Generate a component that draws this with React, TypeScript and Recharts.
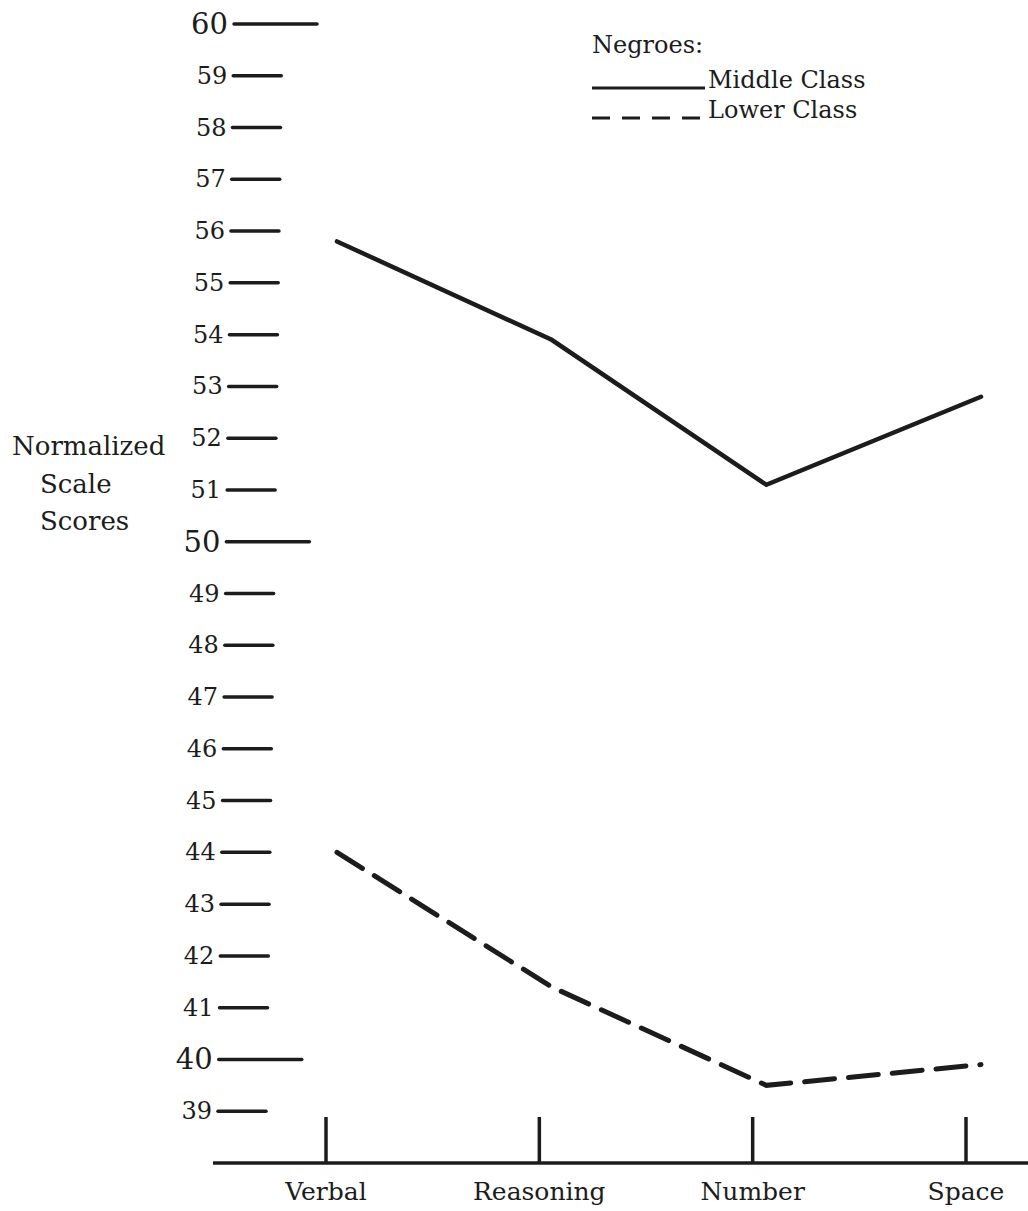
import React from "react";
import { LineChart, Line, XAxis, YAxis, Legend } from "recharts";

const categories = ["Verbal", "Reasoning", "Number", "Space"];
const middleClass = [55.8, 53.9, 51.1, 52.8];
const lowerClass = [44.0, 41.4, 39.5, 39.9];
const yTicks = [39, 40, 41, 42, 43, 44, 45, 46, 47, 48, 49, 50, 51, 52, 53, 54, 55, 56, 57, 58, 59, 60];
const seriesNames = ["Middle Class", "Lower Class"];
const legendTitle = "Negroes:";
const yTitle = ["Normalized", "Scale", "Scores"];

const data = categories.map((c, i) => ({ cat: c, middle: middleClass[i], lower: lowerClass[i] }));

const INK = "#1c1c1c";
const FONT = "'DejaVu Serif', 'Liberation Serif', serif";

const YTick = (props: any) => {
  const { y, payload } = props;
  const v = payload.value as number;
  const shift = ((60 - v) / 21) * 16;
  const major = v % 10 === 0;
  const x0 = 234 - shift;
  const x1 = x0 + (major ? 83 : 48);
  return (
    <g>
      <text x={x0 - 6} y={y} textAnchor="end" dominantBaseline="central" fontFamily={FONT} fontSize={major ? 29 : 24} fill={INK}>
        {v}
      </text>
      <line x1={x0} y1={y} x2={x1} y2={y} stroke={INK} strokeWidth={3.5} strokeLinecap="round" />
    </g>
  );
};

const XTick = (props: any) => {
  const { x, y, payload } = props;
  return (
    <g>
      <line x1={x} y1={y - 46} x2={x} y2={y} stroke={INK} strokeWidth={3.5} />
      <text x={x} y={y + 37} textAnchor="middle" fontFamily={FONT} fontSize={25} fill={INK}>
        {payload.value}
      </text>
    </g>
  );
};

const LegendContent = (props: any) => {
  const payload = props.payload || [];
  const rows = seriesNames.map((n) => payload.find((p: any) => p.value === n)).filter(Boolean);
  return (
    <div style={{ position: "relative", height: 0, width: 0, overflow: "visible" }}>
      <svg width={320} height={110} style={{ position: "absolute", left: 0, top: 0, overflow: "visible" }}>
        <text x={2} y={25} fontFamily={FONT} fontSize={24} fill={INK}>{legendTitle}</text>
        {rows.map((p: any, i: number) => (
          <g key={i}>
            <line
              x1={2}
              y1={60 + i * 30}
              x2={115}
              y2={60 + i * 30}
              stroke={INK}
              strokeWidth={3}
              strokeDasharray={p.value === seriesNames[1] ? "18 12" : undefined}
            />
            <text x={118} y={60 + i * 30} fontFamily={FONT} fontSize={24} fill={INK}>{p.value}</text>
          </g>
        ))}
      </svg>
    </div>
  );
};

const YTitle = () => (
  <g>
    <text x={12} y={455} fontFamily={FONT} fontSize={26} fill={INK}>{yTitle[0]}</text>
    <text x={40} y={493} fontFamily={FONT} fontSize={26} fill={INK}>{yTitle[1]}</text>
    <text x={40} y={530} fontFamily={FONT} fontSize={26} fill={INK}>{yTitle[2]}</text>
  </g>
);

export default function App() {
  return (
    <div style={{ position: "absolute", left: 0, top: 0, width: 1028, height: 1211, background: "#fff" }}>
      <LineChart width={1028} height={1211} data={data} margin={{ top: 24, right: 0, bottom: 0, left: 0 }}>
        <XAxis
          dataKey="cat"
          xAxisId="axis"
          height={48}
          padding={{ left: 113, right: 62 }}
          axisLine={{ stroke: INK, strokeWidth: 3.5 }}
          tickLine={false}
          tickSize={0}
          tickMargin={0}
          tick={<XTick />}
          interval={0}
        />
        <XAxis dataKey="cat" xAxisId="pts" hide padding={{ left: 124, right: 47 }} />
        <YAxis
          width={213}
          domain={[38, 60]}
          ticks={yTicks}
          interval={0}
          axisLine={false}
          tickLine={false}
          tick={<YTick />}
          label={{ content: () => <YTitle /> }}
        />
        <Legend
          verticalAlign="top"
          align="left"
          content={<LegendContent />}
          wrapperStyle={{ position: "absolute", left: 590, top: 28, width: 0, height: 0 }}
        />
        <Line
          xAxisId="pts"
          dataKey="middle"
          name={seriesNames[0]}
          stroke={INK}
          strokeWidth={4.5}
          strokeLinecap="round"
          dot={false}
          activeDot={false}
          isAnimationActive={false}
          type="linear"
        />
        <Line
          xAxisId="pts"
          dataKey="lower"
          name={seriesNames[1]}
          stroke={INK}
          strokeWidth={5}
          strokeDasharray="30 14"
          strokeLinecap="round"
          dot={false}
          activeDot={false}
          isAnimationActive={false}
          type="linear"
        />
      </LineChart>
    </div>
  );
}
